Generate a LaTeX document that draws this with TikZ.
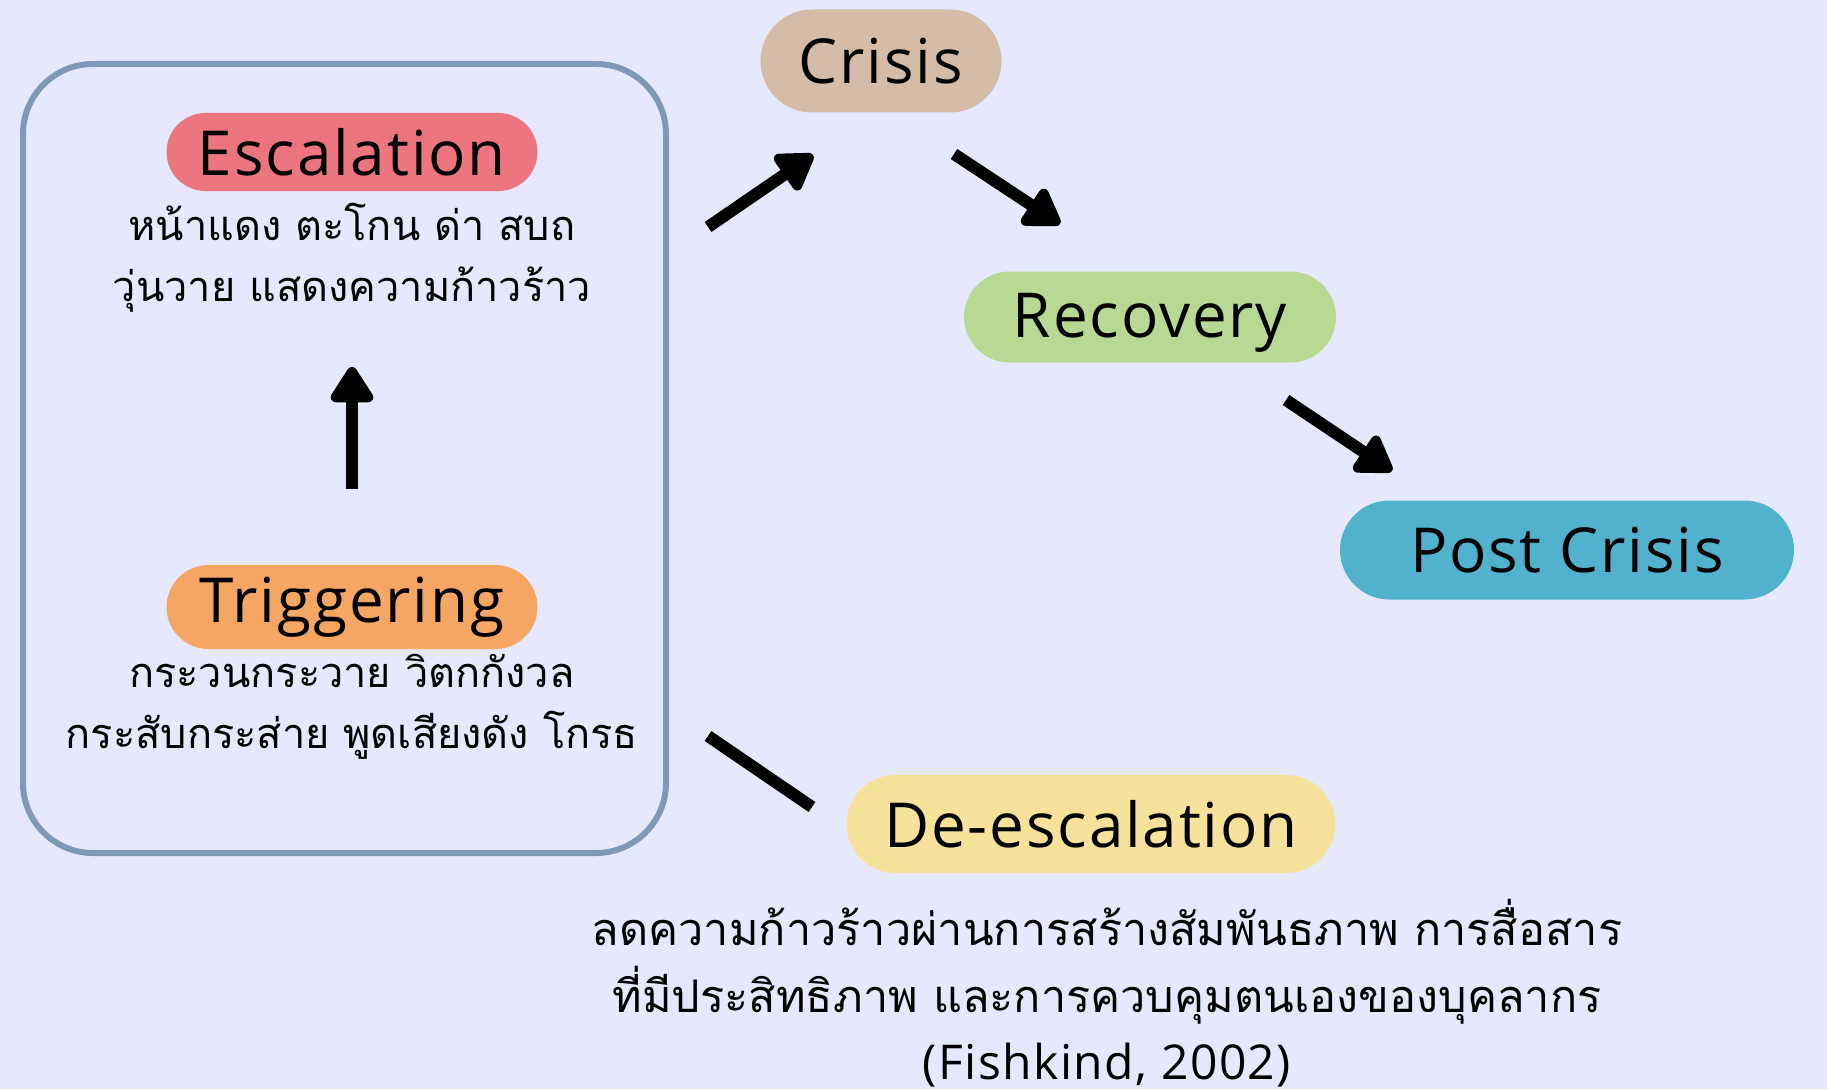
\documentclass[tikz,border=0pt]{standalone}
\usepackage{fontspec}
\setmainfont[LetterSpace=3]{Open Sans}
\newfontfamily\thaifont[Script=Thai]{Loma}
\usetikzlibrary{arrows.meta,shapes.misc}
\definecolor{bg}{RGB}{230,233,254}
\definecolor{framec}{RGB}{127,152,184}
\definecolor{escc}{RGB}{236,117,128}
\definecolor{trigc}{RGB}{244,166,98}
\definecolor{crisc}{RGB}{212,188,168}
\definecolor{recc}{RGB}{184,217,147}
\definecolor{postc}{RGB}{80,178,204}
\definecolor{deec}{RGB}{246,226,155}
\tikzset{
  pill/.style={rounded rectangle, inner sep=0pt, text=black,
    font=\fontsize{62}{74}\selectfont},
  thaitext/.style={align=center, inner sep=0pt,
    font=\thaifont\fontsize{41.5}{61}\selectfont},
  bigarrow/.style={line width=12pt, -{Triangle[length=40pt,width=48pt,round]}},
  plainline/.style={line width=12pt},
}
\begin{document}
\begin{tikzpicture}[x=1pt,y=-1pt]
\fill[bg] (0,0) rectangle (1827,1089);
\useasboundingbox (0,0) rectangle (1827,1089);

\node[draw=framec, line width=6pt, rounded corners=70pt, minimum width=643pt, minimum height=789pt] (frame) at (344.5,458.5) {};

\node[pill, fill=escc, minimum width=371pt, minimum height=78pt] (esc) at (352,152) {Escalation};
\node[thaitext] (esctxt) at (352,258) {หน้าแดง ตะโกน ด่า สบถ\\วุ่นวาย แสดงความก้าวร้าว};

\node[pill, fill=trigc, minimum width=371pt, minimum height=84pt] (trig) at (352,607) {Triggering};
\node[thaitext] (trigtxt) at (352,707) {กระวนกระวาย วิตกกังวล\\กระสับกระส่าย พูดเสียงดัง โกรธ};

\node[pill, fill=crisc, minimum width=241pt, minimum height=103pt] (crisis) at (881,61) {Crisis};
\node[pill, fill=recc, minimum width=372pt, minimum height=91pt] (recov) at (1150,317) {\raisebox{-6pt}[\height][\depth]{Recovery}};
\node[pill, fill=postc, minimum width=454pt, minimum height=99pt] (post) at (1567,550) {Post Crisis};
\node[pill, fill=deec, minimum width=489pt, minimum height=98pt] (deesc) at (1091,824) {De-escalation};
\node[thaitext, font=\thaifont\fontsize{45}{67}\selectfont] (deetxt) at (1107,993) {ลดความก้าวร้าวผ่านการสร้างสัมพันธภาพ การสื่อสาร\\ที่มีประสิทธิภาพ และการควบคุมตนเองของบุคลากร\\{\rmfamily\fontsize{48}{67}\selectfont (Fishkind, 2002)}};

\coordinate (a1s) at (352,489); \coordinate (a1e) at (352,367);
\coordinate (a2s) at (708,227); \coordinate (a2e) at (813,155);
\coordinate (a3s) at (954,154); \coordinate (a3e) at (1060,224);
\coordinate (a4s) at (1286,400); \coordinate (a4e) at (1392,471);
\coordinate (a5s) at (708,736); \coordinate (a5e) at (812,807);

\draw[bigarrow] (a1s) -- (a1e);
\draw[bigarrow] (a2s) -- (a2e);
\draw[bigarrow] (a3s) -- (a3e);
\draw[bigarrow] (a4s) -- (a4e);
\draw[plainline] (a5s) -- (a5e);
\end{tikzpicture}
\end{document}
